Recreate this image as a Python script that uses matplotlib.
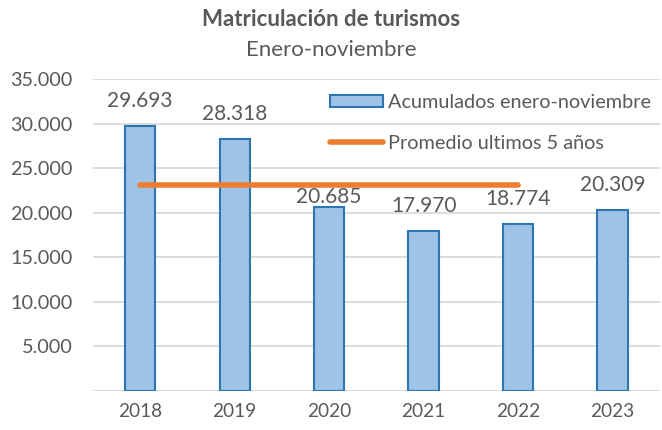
import matplotlib
matplotlib.use("Agg")
import matplotlib.pyplot as plt
from matplotlib.ticker import FuncFormatter

plt.rcParams["font.family"] = ["Lato", "DejaVu Sans"]

# data
years = ["2018", "2019", "2020", "2021", "2022", "2023"]
acumulados = [29693, 28318, 20685, 17970, 18774, 20309]
promedio_years = ["2018", "2019", "2020", "2021", "2022"]
promedio = [23088, 23088, 23088, 23088, 23088]
yticks = [5000, 10000, 15000, 20000, 25000, 30000, 35000]

TEXT = "#595959"
BAR_FILL = "#9DC3E6"
BAR_EDGE = "#2E75B6"
ORANGE = "#ED7D31"
GRID = "#D9D9D9"


def fmt_es(v, pos=None):
    return f"{int(round(v)):,}".replace(",", ".")


fig = plt.figure(figsize=(6.62, 4.30), dpi=100, facecolor="white")
ax = fig.add_axes([0.1405, 0.0907, 0.856, 0.7256])

x = list(range(len(years)))
bars = ax.bar(x, acumulados, width=0.32, color=BAR_FILL, edgecolor=BAR_EDGE,
              linewidth=1.5, label="Acumulados enero-noviembre", zorder=3)
px = [years.index(y) for y in promedio_years]
line, = ax.plot(px, promedio, color=ORANGE, linewidth=4, solid_capstyle="round",
                label="Promedio ultimos 5 años", zorder=4)

# label for 2020 sits lower so it stays under the average line
label_offsets = [18, 18, 7, 18, 18, 18]
for xi, v, off in zip(x, acumulados, label_offsets):
    ax.annotate(fmt_es(v), (xi, v), xytext=(0, off), textcoords="offset points",
                ha="center", va="center", fontsize=15, color=TEXT, zorder=5)

ax.set_xlim(-0.5, len(years) - 0.5)
ax.set_ylim(0, 35000)
ax.set_xticks(x)
ax.set_xticklabels(years)
ax.set_yticks(yticks)
ax.yaxis.set_major_formatter(FuncFormatter(fmt_es))
ax.tick_params(axis="both", length=0, colors=TEXT)
ax.tick_params(axis="x", pad=9, labelsize=13.7)
ax.tick_params(axis="y", pad=15, labelsize=14.3)
ax.grid(axis="y", color=GRID, linewidth=1.3, zorder=0)
ax.axhline(0, color=GRID, linewidth=1.3, zorder=2)
for s in ax.spines.values():
    s.set_visible(False)

leg = ax.legend([bars, line], ["Acumulados enero-noviembre", "Promedio ultimos 5 años"],
                loc="upper left", bbox_to_anchor=(0.418, 0.952), frameon=False,
                borderpad=0, borderaxespad=0,
                fontsize=14.3, labelcolor=TEXT, handlelength=2.66,
                handleheight=0.55, handletextpad=0.25, labelspacing=1.2)

fig.text(0.5, 0.955, "Matriculación de turismos", ha="center", va="center",
         fontsize=16, fontweight="bold", color=TEXT)
fig.text(0.5, 0.884, "Enero-noviembre", ha="center", va="center",
         fontsize=16, color=TEXT)

fig.savefig("out.png", dpi=100, facecolor="white")
plt.close(fig)
